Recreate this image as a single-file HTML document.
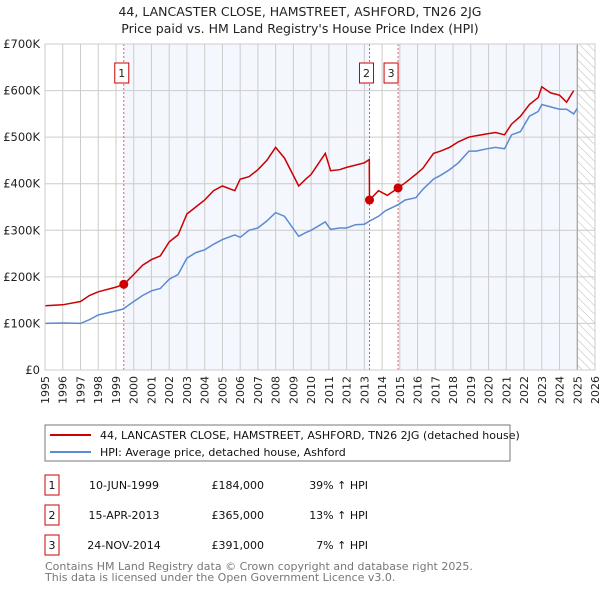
<!DOCTYPE html>
<html><head><meta charset="utf-8"><style>
body{margin:0;background:#fff;font-family:"DejaVu Sans","Liberation Sans",sans-serif;}
svg text{font-family:"DejaVu Sans","Liberation Sans",sans-serif;}
</style></head><body>
<svg id="c" width="600" height="590" xmlns="http://www.w3.org/2000/svg">
<defs><pattern id="hatch" width="6" height="6" patternUnits="userSpaceOnUse" patternTransform="rotate(-45)"><line x1="0" y1="0" x2="0" y2="6" stroke="#bbb" stroke-width="1"/></pattern></defs>
<text x="300" y="16" text-anchor="middle" font-size="12.5" fill="#222">44, LANCASTER CLOSE, HAMSTREET, ASHFORD, TN26 2JG</text>
<text x="300" y="33" text-anchor="middle" font-size="12.5" fill="#222">Price paid vs. HM Land Registry's House Price Index (HPI)</text>
<g id="plot"></g>
<rect x="45" y="425" width="465" height="36" fill="#fff" stroke="#777"/>
<line x1="50" y1="435" x2="91" y2="435" stroke="#cc0000" stroke-width="2"/>
<text x="100" y="439" font-size="11" fill="#111">44, LANCASTER CLOSE, HAMSTREET, ASHFORD, TN26 2JG (detached house)</text>
<line x1="50" y1="452" x2="91" y2="452" stroke="#5b8bd0" stroke-width="2"/>
<text x="100" y="456" font-size="11" fill="#111">HPI: Average price, detached house, Ashford</text>
<g id="tbl"></g>
<text x="45" y="570" font-size="11" fill="#777">Contains HM Land Registry data © Crown copyright and database right 2025.</text>
<text x="45" y="581" font-size="11" fill="#777">This data is licensed under the Open Government Licence v3.0.</text>
</svg>
<script>
const hpiYears=[1995,1996,1997,1997.5,1998,1999,1999.4,2000,2000.5,2001,2001.5,2002,2002.5,2003,2003.5,2004,2004.5,2005,2005.7,2006,2006.5,2007,2007.5,2008,2008.5,2009.3,2009.7,2010,2010.8,2011.1,2011.6,2012,2012.5,2013,2013.3,2013.8,2014.2,2014.9,2015.3,2015.9,2016.3,2016.9,2017.3,2017.8,2018.3,2018.9,2019.3,2019.9,2020.4,2020.9,2021.3,2021.8,2022.3,2022.8,2023.0,2023.5,2024.0,2024.4,2024.8,2025.0];
const hpiVals=[100,101,100,108,118,127,131,147,160,170,175,195,205,240,252,258,270,280,290,285,300,305,320,338,330,287,295,300,318,302,305,305,312,313,320,330,342,355,365,370,388,410,418,430,445,470,470,475,478,475,505,512,545,555,570,565,560,560,550,562];
const propYears=[1995,1996,1997,1997.5,1998,1999,1999.44,2000,2000.5,2001,2001.5,2002,2002.5,2003,2003.5,2004,2004.5,2005,2005.7,2006,2006.5,2007,2007.5,2008,2008.5,2009.3,2009.7,2010,2010.8,2011.1,2011.6,2012,2012.5,2013,2013.28,2013.29,2013.8,2014.3,2014.9,2015.3,2015.9,2016.3,2016.9,2017.3,2017.8,2018.3,2018.9,2019.3,2019.9,2020.4,2020.9,2021.3,2021.8,2022.3,2022.8,2023.0,2023.5,2024.0,2024.4,2024.8,2025.0];
const propVals=[138,140,147,160,168,178,184,205,225,237,245,275,290,335,350,365,385,395,385,410,415,430,450,478,455,395,410,420,465,428,430,435,440,445,452,365,385,375,391,402,420,433,465,470,478,490,500,503,507,510,505,528,545,570,585,608,595,590,575,600];
const saleYears=[1999.44,2013.29,2014.9];
const saleVals=[184,365,391];
const saleLabels=["1","2","3"];
const saleDates=["10-JUN-1999","15-APR-2013","24-NOV-2014"];
const salePrices=["£184,000","£365,000","£391,000"];
const saleDiffs=["39% ↑ HPI","13% ↑ HPI","7% ↑ HPI"];
const yTicks=[0,100,200,300,400,500,600,700];
const yTickLabels=["£0","£100K","£200K","£300K","£400K","£500K","£600K","£700K"];
const xTicks=[1995,1996,1997,1998,1999,2000,2001,2002,2003,2004,2005,2006,2007,2008,2009,2010,2011,2012,2013,2014,2015,2016,2017,2018,2019,2020,2021,2022,2023,2024,2025,2026];

const X0=45,X1=595,Y0=370,Y1=44;
const xs=y=>X0+(y-1995)/(2026-1995)*(X1-X0);
const ys=v=>Y0-v/700*(Y0-Y1);
const NS="http://www.w3.org/2000/svg";
const plot=document.getElementById('plot');
function mk(tag,attrs,parent){const e=document.createElementNS(NS,tag);for(const k in attrs)e.setAttribute(k,attrs[k]);(parent||plot).appendChild(e);return e;}

let e;
e=mk('rect',{x:xs(saleYears[0]),y:Y1,width:xs(saleYears[1])-xs(saleYears[0]),height:Y0-Y1,fill:'#f4f7fd'});


e=mk('rect',{x:xs(saleYears[2]),y:Y1,width:xs(2025)-xs(saleYears[2]),height:Y0-Y1,fill:'#f4f7fd'});


e=mk('rect',{x:xs(2025),y:Y1,width:X1-xs(2025),height:Y0-Y1,fill:'url(#hatch)'});



xTicks.forEach(t=>{
  e=mk('line',{x1:xs(t),x2:xs(t),y1:Y1,y2:Y0,stroke:'#ccc','stroke-width':1});
  
  
  e=mk('text',{x:0,y:0,'font-size':11,fill:'#222','text-anchor':'end',transform:`translate(${xs(t)+4},${Y0+6}) rotate(-90)`});
  e.textContent=t;
  
  
});
yTicks.forEach((t,i)=>{
  e=mk('line',{x1:X0,x2:X1,y1:ys(t),y2:ys(t),stroke:'#ccc','stroke-width':1});
  
  
  e=mk('text',{x:X0-5,y:ys(t)+4,'font-size':11.5,fill:'#222','text-anchor':'end'});
  e.textContent=yTickLabels[i];
  
  
});
e=mk('line',{x1:xs(2025),x2:xs(2025),y1:Y1,y2:Y0,stroke:'#999','stroke-width':1});



const boxX=[xs(saleYears[0])-9,xs(saleYears[1])-10,xs(saleYears[2])-14];
saleYears.forEach((s,i)=>{
  e=mk('line',{x1:xs(s),x2:xs(s),y1:Y1,y2:Y0,stroke:'#e06060','stroke-width':1,'stroke-dasharray':'2,2'});
  
  
  e=mk('rect',{x:boxX[i],y:63,width:14,height:20,fill:'#fff',stroke:'#cc0000'});
  
  
  e=mk('text',{x:boxX[i]+7,y:77,'font-size':11,fill:'#222','text-anchor':'middle'});
  e.textContent=saleLabels[i];
  
  
});

const pts=(yr,v)=>yr.map((y,i)=>xs(y).toFixed(1)+','+ys(v[i]).toFixed(1)).join(' ');
e=mk('polyline',{points:pts(hpiYears,hpiVals),fill:'none',stroke:'#5b8bd0','stroke-width':1.5});


e=mk('polyline',{points:pts(propYears,propVals),fill:'none',stroke:'#cc0000','stroke-width':1.5});


saleYears.forEach((s,i)=>{
  e=mk('circle',{cx:xs(s),cy:ys(saleVals[i]),r:4.5,fill:'#cc0000'});
  
  
});
e=mk('rect',{x:X0,y:Y1,width:X1-X0,height:Y0-Y1,fill:'none',stroke:'#ccc'});



const tbl=document.getElementById('tbl');
saleLabels.forEach((l,i)=>{
  const y=475+i*30;
  e=mk('rect',{x:45,y:y,width:14,height:20,fill:'#fff',stroke:'#cc0000'},tbl);
  
  
  e=mk('text',{x:52,y:y+14,'font-size':11,fill:'#111','text-anchor':'middle'},tbl);
  e.textContent=l;
  
  
  e=mk('text',{x:124,y:y+14,'font-size':11,fill:'#111','text-anchor':'middle'},tbl);
  e.textContent=saleDates[i];
  
  
  e=mk('text',{x:264,y:y+14,'font-size':11,fill:'#111','text-anchor':'end'},tbl);
  e.textContent=salePrices[i];
  
  
  e=mk('text',{x:368,y:y+14,'font-size':11,fill:'#111','text-anchor':'end'},tbl);
  e.textContent=saleDiffs[i];
  
  
});
</script>
</body></html>
